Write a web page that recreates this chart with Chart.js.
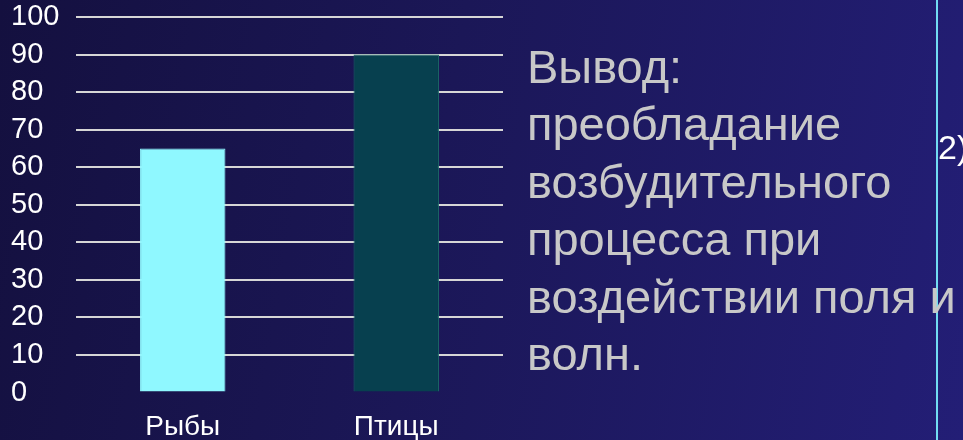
<!DOCTYPE html>
<html>
<head>
<meta charset="utf-8">
<script src="https://cdn.jsdelivr.net/npm/chart.js@4"></script>
<style>
  html, body { margin: 0; padding: 0; }
  body {
    width: 963px; height: 440px; overflow: hidden; position: relative;
    background: linear-gradient(100deg, #14103f 0%, #1b1757 45%, #231e76 100%);
    font-family: "Liberation Sans", Arial, sans-serif;
  }
  #wrap { position: absolute; left: 0; top: 0; width: 963px; height: 440px; }
  #vivod {
    position: absolute; left: 527px; top: 38px;
    color: #c8c8c8; font-size: 47px; line-height: 57.4px; white-space: nowrap;
  }
  #linia {
    position: absolute; left: 936px; top: 0; width: 2px; height: 440px;
    background: #72dcf2;
  }
  #nomer {
    position: absolute; left: 938px; top: 128px;
    color: #ffffff; font-size: 34px; white-space: nowrap;
  }
</style>
</head>
<body>
<div id="wrap"><canvas id="grafico" width="963" height="440"></canvas></div>
<div id="linia"></div>
<div id="nomer">2)</div>
<div id="vivod">Вывод:<br>преобладание<br>возбудительного<br>процесса при<br>воздействии поля и<br>волн.</div>
<script>
// datos
let categorias = ["Рыбы", "Птицы"];
let valores = [65, 90];
let colores = ["#8ff8ff", "#07404f"];
let bordes = ["#8ff8ff", "#1b6b66"];
let ticksY = [0, 10, 20, 30, 40, 50, 60, 70, 80, 90, 100];

Chart.defaults.font.family = '"Liberation Sans", Arial, sans-serif';

let ctx = document.getElementById("grafico").getContext("2d");
let chart = new Chart(ctx, {
  type: "bar",
  data: {
    labels: categorias,
    datasets: [
      {
        data: valores,
        backgroundColor: colores,
        borderColor: bordes,
        borderWidth: 1,
        barPercentage: 0.4,
        categoryPercentage: 1,
      },
    ],
  },
  options: {
    responsive: false,
    animation: false,
    events: [],
    layout: { padding: { left: 11, right: 460, top: 17, bottom: 0 } },
    plugins: { legend: { display: false }, tooltip: { enabled: false } },
    scales: {
      x: {
        grid: { display: false, drawTicks: false },
        border: { display: false },
        ticks: { color: "#ffffff", font: { size: 28 }, padding: 18 },
        afterFit: function (scale) { scale.height = 47.5; },
      },
      y: {
        min: 0,
        max: 100,
        afterBuildTicks: function (scale) {
          scale.ticks = ticksY.map((v) => ({ value: v }));
        },
        grid: {
          drawTicks: false,
          lineWidth: 2,
          color: function (c) { return c.tick && c.tick.value === 0 ? "rgba(0,0,0,0)" : "#d6d6d6"; },
        },
        border: { display: false },
        ticks: { color: "#ffffff", font: { size: 29 }, crossAlign: "far", padding: 15, autoSkip: false },
        afterFit: function (scale) {
          scale.width = 65;
          scale.paddingTop = 0;
          scale.paddingBottom = 0;
        },
      },
    },
  },
});
</script>
</body>
</html>
